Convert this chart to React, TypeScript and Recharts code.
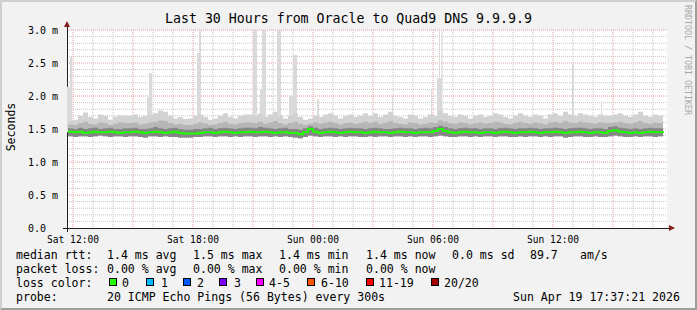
import React from "react";
import * as R from "recharts";
import { ComposedChart, Area, Line, XAxis, YAxis, CartesianGrid } from "recharts";

// time axis in hours since Sat 00:00, one smoke sample every 15 minutes
const START = 11.7;
const END = 41.7;
const FIRST = 11.75;
const STEP = 0.25;

const median = [
  1.46, 1.45, 1.46, 1.44, 1.45, 1.46, 1.45, 1.45, 1.46, 1.45, 1.44, 1.45,
  1.45, 1.46, 1.45, 1.44, 1.45, 1.46, 1.45, 1.44, 1.45, 1.46, 1.44, 1.43,
  1.43, 1.43, 1.44, 1.45, 1.45, 1.44, 1.45, 1.46, 1.45, 1.44, 1.45, 1.45,
  1.46, 1.45, 1.45, 1.46, 1.45, 1.44, 1.45, 1.45, 1.44, 1.44, 1.42, 1.45,
  1.50, 1.46, 1.44, 1.45, 1.46, 1.45, 1.44, 1.45, 1.46, 1.45, 1.45, 1.44,
  1.45, 1.46, 1.45, 1.45, 1.44, 1.45, 1.46, 1.45, 1.45, 1.44, 1.45, 1.45,
  1.45, 1.47, 1.50, 1.47, 1.45, 1.44, 1.45, 1.46, 1.45, 1.45, 1.44, 1.45,
  1.45, 1.44, 1.45, 1.46, 1.45, 1.44, 1.45, 1.45, 1.46, 1.45, 1.44, 1.45,
  1.45, 1.46, 1.45, 1.44, 1.45, 1.45, 1.46, 1.45, 1.44, 1.45, 1.45, 1.44,
  1.47, 1.48, 1.46, 1.45, 1.44, 1.45, 1.44, 1.45, 1.46, 1.45, 1.45, 1.44,
];

const low = [
  1.39, 1.38, 1.39, 1.39, 1.38, 1.39, 1.40, 1.39, 1.38, 1.39, 1.39, 1.38,
  1.39, 1.39, 1.38, 1.37, 1.39, 1.39, 1.38, 1.39, 1.38, 1.38, 1.37, 1.37,
  1.37, 1.38, 1.38, 1.39, 1.39, 1.38, 1.39, 1.39, 1.38, 1.39, 1.38, 1.39,
  1.39, 1.38, 1.39, 1.39, 1.38, 1.39, 1.38, 1.39, 1.38, 1.37, 1.36, 1.38,
  1.40, 1.39, 1.38, 1.39, 1.39, 1.38, 1.39, 1.38, 1.39, 1.39, 1.38, 1.38,
  1.39, 1.38, 1.39, 1.39, 1.38, 1.39, 1.39, 1.38, 1.39, 1.38, 1.39, 1.39,
  1.38, 1.39, 1.40, 1.39, 1.38, 1.38, 1.39, 1.39, 1.38, 1.39, 1.38, 1.39,
  1.39, 1.38, 1.39, 1.39, 1.38, 1.38, 1.39, 1.38, 1.39, 1.39, 1.38, 1.39,
  1.38, 1.39, 1.39, 1.37, 1.38, 1.39, 1.39, 1.38, 1.38, 1.39, 1.38, 1.38,
  1.39, 1.40, 1.39, 1.38, 1.38, 1.39, 1.38, 1.39, 1.39, 1.38, 1.39, 1.38,
];

const darkTop = [
  1.51, 1.50, 1.52, 1.50, 1.51, 1.52, 1.50, 1.51, 1.52, 1.50, 1.50, 1.51,
  1.51, 1.52, 1.50, 1.50, 1.51, 1.53, 1.51, 1.50, 1.51, 1.52, 1.50, 1.49,
  1.49, 1.50, 1.50, 1.51, 1.52, 1.50, 1.51, 1.52, 1.51, 1.50, 1.51, 1.52,
  1.52, 1.51, 1.53, 1.52, 1.51, 1.50, 1.51, 1.52, 1.50, 1.50, 1.49, 1.51,
  1.54, 1.52, 1.50, 1.51, 1.52, 1.51, 1.50, 1.51, 1.52, 1.51, 1.51, 1.50,
  1.51, 1.52, 1.51, 1.50, 1.50, 1.51, 1.52, 1.51, 1.51, 1.50, 1.51, 1.52,
  1.51, 1.53, 1.55, 1.53, 1.51, 1.50, 1.51, 1.52, 1.51, 1.51, 1.50, 1.51,
  1.51, 1.50, 1.51, 1.52, 1.51, 1.50, 1.51, 1.51, 1.52, 1.51, 1.50, 1.51,
  1.51, 1.52, 1.51, 1.50, 1.51, 1.52, 1.52, 1.51, 1.50, 1.51, 1.51, 1.50,
  1.53, 1.54, 1.52, 1.51, 1.50, 1.51, 1.50, 1.51, 1.52, 1.51, 1.51, 1.50,
];

const midTop = [
  1.57, 1.56, 1.59, 1.61, 1.58, 1.57, 1.60, 1.59, 1.56, 1.58, 1.60, 1.59,
  1.59, 1.60, 1.57, 1.58, 1.60, 1.61, 1.63, 1.62, 1.59, 1.57, 1.58, 1.56,
  1.56, 1.58, 1.60, 1.58, 1.56, 1.57, 1.59, 1.61, 1.58, 1.57, 1.59, 1.60,
  1.60, 1.59, 1.61, 1.58, 1.60, 1.62, 1.59, 1.57, 1.59, 1.61, 1.58, 1.56,
  1.58, 1.60, 1.58, 1.60, 1.61, 1.59, 1.57, 1.59, 1.60, 1.58, 1.59, 1.61,
  1.59, 1.61, 1.58, 1.60, 1.62, 1.59, 1.58, 1.57, 1.60, 1.59, 1.57, 1.58,
  1.60, 1.59, 1.63, 1.61, 1.59, 1.58, 1.60, 1.59, 1.57, 1.59, 1.60, 1.58,
  1.59, 1.61, 1.60, 1.58, 1.57, 1.59, 1.61, 1.59, 1.58, 1.60, 1.59, 1.57,
  1.60, 1.61, 1.59, 1.62, 1.60, 1.59, 1.61, 1.60, 1.59, 1.58, 1.60, 1.59,
  1.59, 1.60, 1.61, 1.59, 1.58, 1.60, 1.62, 1.59, 1.58, 1.60, 1.59, 1.57,
];

const lightTop = [
  1.62, 1.64, 1.70, 1.75, 1.68, 1.66, 1.72, 1.70, 1.64, 1.69, 1.71, 1.70,
  1.70, 1.72, 1.68, 1.70, 1.72, 1.74, 1.78, 1.76, 1.70, 1.66, 1.68, 1.65,
  1.66, 1.70, 1.72, 1.68, 1.64, 1.66, 1.70, 1.74, 1.68, 1.66, 1.70, 1.72,
  1.72, 1.70, 1.74, 1.68, 1.72, 1.76, 1.70, 1.66, 1.70, 1.74, 1.68, 1.64,
  1.66, 1.70, 1.68, 1.72, 1.74, 1.70, 1.66, 1.70, 1.72, 1.68, 1.70, 1.74,
  1.70, 1.74, 1.68, 1.72, 1.76, 1.70, 1.68, 1.66, 1.72, 1.70, 1.66, 1.68,
  1.72, 1.70, 1.78, 1.74, 1.70, 1.68, 1.72, 1.70, 1.66, 1.70, 1.72, 1.68,
  1.70, 1.74, 1.72, 1.68, 1.66, 1.70, 1.74, 1.70, 1.68, 1.72, 1.70, 1.66,
  1.72, 1.74, 1.70, 1.76, 1.72, 1.70, 1.74, 1.72, 1.70, 1.68, 1.72, 1.70,
  1.70, 1.72, 1.74, 1.70, 1.68, 1.72, 1.76, 1.70, 1.68, 1.72, 1.70, 1.66,
];

// occasional slow pings sticking out of the smoke (1.45 = back inside)
const spikeTimes = [
  11.7, 11.85, 11.95, 15.7, 15.8, 15.95, 18.2, 18.3, 18.4, 21.0, 21.2, 21.35,
  21.45, 21.65, 22.2, 22.4, 22.8, 23.0, 23.2, 24.2, 24.3, 27.95, 28.0, 29.9,
  29.95, 30.2, 30.3, 30.35, 30.42, 30.48, 36.95, 37.05, 38.4, 38.45,
];
const spikeMax = [
  2.14, 2.59, 1.45, 1.98, 2.35, 1.45, 2.65, 3.05, 1.45, 3.05, 1.45, 2.09,
  3.05, 1.45, 3.05, 1.45, 2.0, 2.62, 1.45, 1.95, 1.45, 2.01, 1.45, 2.09,
  1.45, 2.27, 3.05, 2.27, 3.05, 1.45, 2.48, 1.45, 1.92, 1.45,
];
const SPIKE_BASE = 1.45;

const hourTicks = [12, 18, 24, 30, 36];
const hourLabels = ["Sat 12:00", "Sat 18:00", "Sun 00:00", "Sun 06:00", "Sun 12:00"];
const yTicks = [0, 0.5, 1, 1.5, 2, 2.5, 3];
const yLabels = ["0.0", "0.5 m", "1.0 m", "1.5 m", "2.0 m", "2.5 m", "3.0 m"];

const lossLabels = ["0", "1", "2", "3", "4-5", "6-10", "11-19", "20/20"];
const lossColors = ["#26ff00", "#00b8ff", "#0059ff", "#7e00ff", "#ff00ff", "#ff5500", "#ff0000", "#a00000"];

const rows = median.map((m, i) => ({
  t: FIRST + i * STEP,
  median: m,
  light: [low[i], lightTop[i]],
  mid: [low[i], midTop[i]],
  dark: [low[i], darkTop[i]],
}));
const spikeRows = spikeTimes.map((t, i) => ({ t, spike: [SPIKE_BASE, spikeMax[i]] }));

const minorY = Array.from({ length: 30 }, (_, k) => k + 1).filter((k) => k % 5 !== 0).map((k) => k / 10);
const majorY = [0.5, 1, 1.5, 2, 2.5, 3];
const minorX = Array.from({ length: 30 }, (_, k) => 12 + k).filter((h) => (h - 12) % 3 !== 0);
const majorX = Array.from({ length: 10 }, (_, k) => 12 + k * 3);

const MONO = "'DejaVu Sans Mono', monospace";
const LEG = 11.56;

const YTick = (props: any) => {
  const { x, y, payload } = props;
  return (
    <text x={x - 37} y={y} dy={3.6} textAnchor="start" fontSize={10} fontFamily={MONO} fill="#000">
      {yLabels[yTicks.indexOf(payload.value)]}
    </text>
  );
};

const XTick = (props: any) => {
  const { x, y, payload } = props;
  return (
    <text x={x} y={y + 12.5} textAnchor="middle" fontSize={9.6} fontFamily={MONO} fill="#000">
      {hourLabels[hourTicks.indexOf(payload.value)]}
    </text>
  );
};

const useArea: any = (R as any).usePlotArea;

const Axes = () => {
  const area = useArea ? useArea() : null;
  const p = area ?? { x: 67, y: 30, width: 600, height: 198 };
  const bx = p.x;
  const by = p.y + p.height;
  const rx = p.x + p.width;
  return (
    <g shapeRendering="crispEdges">
      <line x1={bx - 4} y1={by} x2={rx + 3} y2={by} stroke="#1f1f1f" />
      <line x1={bx} y1={by + 4} x2={bx} y2={p.y - 4} stroke="#1f1f1f" />
      <polygon points={`${rx + 2},${by - 3} ${rx + 8},${by} ${rx + 2},${by + 3}`} fill="#801f1f" shapeRendering="auto" />
      <polygon points={`${bx - 3},${p.y - 3} ${bx},${p.y - 9} ${bx + 3},${p.y - 3}`} fill="#801f1f" shapeRendering="auto" />
    </g>
  );
};

const txt = (left: number, top: number, s: string, extra: React.CSSProperties = {}) => (
  <div style={{ position: "absolute", left, top, fontFamily: MONO, fontSize: LEG, lineHeight: "14px", whiteSpace: "pre", color: "#000", ...extra }}>
    {s}
  </div>
);

const row1 = [[16, "median rtt:"], [107, "1.4 ms avg"], [193, "1.5 ms max"], [279, "1.4 ms min"], [366, "1.4 ms now"], [452, "0.0 ms sd"], [530, "89.7"], [580, "am/s"]] as const;
const row2 = [[16, "packet loss:"], [107, "0.00 % avg"], [193, "0.00 % max"], [279, "0.00 % min"], [366, "0.00 % now"]] as const;
const boxX = [109, 146, 183, 219, 256, 307, 366, 431];
const labelX = [122, 161, 197, 234, 269, 321, 379, 444];

export default function App() {
  return (
    <div style={{ position: "relative", width: 697, height: 310, background: "#f2f2f2", overflow: "hidden" }}>
      <style>{`body{margin:0}`}</style>
      <div style={{ position: "absolute", inset: 0, boxSizing: "border-box", borderTop: "2px solid #cfcfcf", borderLeft: "2px solid #cfcfcf", borderRight: "2px solid #9e9e9e", borderBottom: "2px solid #9e9e9e" }} />
      <div style={{ position: "absolute", left: 0, top: 0 }}>
        <ComposedChart width={697} height={310} data={rows} margin={{ top: 30, right: 30, left: 0, bottom: 62 }}>
          <CartesianGrid horizontalValues={minorY} verticalValues={minorX} stroke="#c4c4c4" strokeDasharray="1 1" fill="#ffffff" fillOpacity={1} />
          <CartesianGrid horizontalValues={majorY} verticalValues={majorX} stroke="#e49a9a" strokeDasharray="1 1" />
          <XAxis dataKey="t" type="number" domain={[START, END]} ticks={hourTicks} allowDataOverflow axisLine={false} tickLine={false} tickSize={0} height={20} tick={<XTick />} interval={0} />
          <YAxis type="number" domain={[0, 3]} ticks={yTicks} allowDataOverflow axisLine={false} tickLine={false} tickSize={0} width={67} tick={<YTick />} interval={0} />
          <Area data={spikeRows} dataKey="spike" type="stepAfter" stroke="none" fill="#dadada" fillOpacity={1} isAnimationActive={false} />
          <Area dataKey="light" type="stepAfter" stroke="none" fill="#d2d2d2" fillOpacity={1} isAnimationActive={false} />
          <Area dataKey="mid" type="stepAfter" stroke="none" fill="#b6b6b6" fillOpacity={1} isAnimationActive={false} />
          <Area dataKey="dark" type="stepAfter" stroke="none" fill="#868686" fillOpacity={1} isAnimationActive={false} />
          <Line dataKey="median" type="stepAfter" stroke="#1eff00" strokeWidth={2} dot={false} isAnimationActive={false} />
          <Axes />
        </ComposedChart>
      </div>
      {txt(348 - 183, 11, "Last 30 Hours from Oracle to Quad9 DNS 9.9.9.9", { fontSize: 13.25, lineHeight: "16px" })}
      <div style={{ position: "absolute", left: 11, top: 127, transform: "translate(-50%, -50%) rotate(-90deg)", fontFamily: MONO, fontSize: LEG, whiteSpace: "pre" }}>Seconds</div>
      <div style={{ position: "absolute", left: 683, top: 5, writingMode: "vertical-rl", fontFamily: MONO, fontSize: 8.3, color: "#a8a8a8", whiteSpace: "pre" }}>RRDTOOL / TOBI OETIKER</div>
      {row1.map(([x, s]) => <React.Fragment key={s}>{txt(x, 247.5, s)}</React.Fragment>)}
      {row2.map(([x, s]) => <React.Fragment key={s}>{txt(x, 261.5, s)}</React.Fragment>)}
      {txt(16, 275.5, "loss color:")}
      {lossLabels.map((l, i) => (
        <React.Fragment key={l}>
          <div style={{ position: "absolute", left: boxX[i], top: 278, width: 6, height: 6, border: "1px solid #000", background: lossColors[i] }} />
          {txt(labelX[i], 275.5, l)}
        </React.Fragment>
      ))}
      {txt(16, 289.5, "probe:")}
      {txt(107, 289.5, "20 ICMP Echo Pings (56 Bytes) every 300s")}
      {txt(513, 289.5, "Sun Apr 19 17:37:21 2026")}
    </div>
  );
}
